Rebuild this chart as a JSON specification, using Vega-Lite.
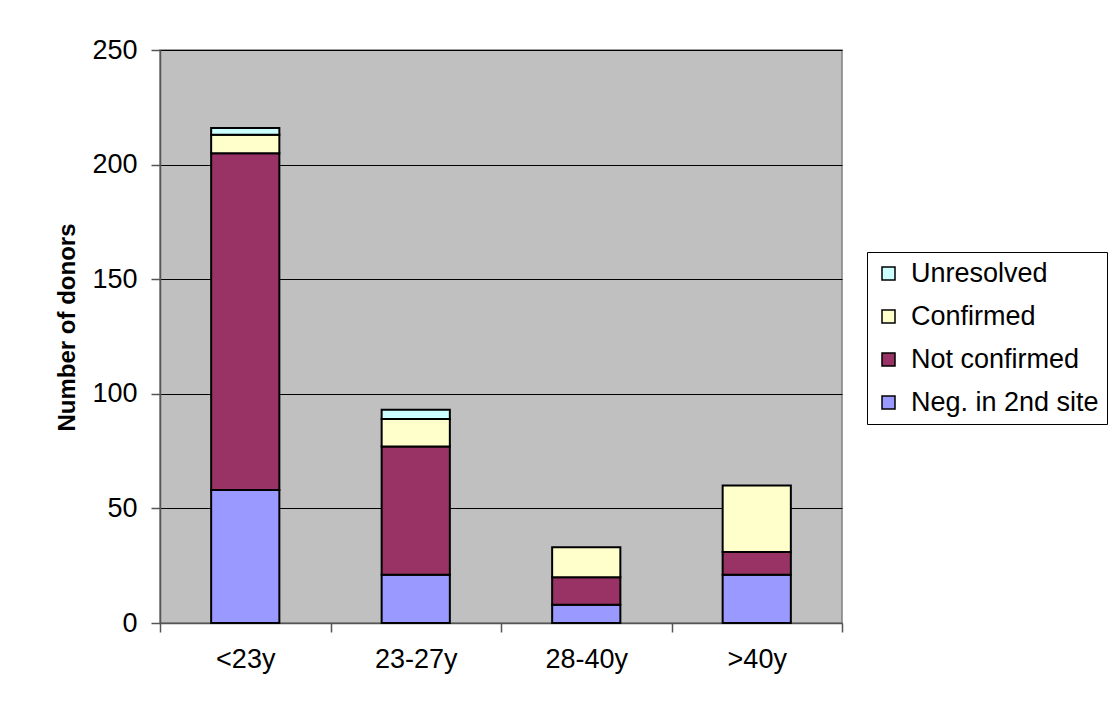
{
  "$schema": "https://vega.github.io/schema/vega-lite/v6.json",
  "autosize": {"type": "none"},
  "width": 682,
  "height": 573,
  "padding": {"left": 160, "top": 50, "right": 275, "bottom": 78},
  "background": "#ffffff",
  "data": {
    "values": [
      {"age": "<23y", "status": "Neg. in 2nd site", "rank": 1, "donors": 58},
      {"age": "<23y", "status": "Not confirmed", "rank": 2, "donors": 147},
      {"age": "<23y", "status": "Confirmed", "rank": 3, "donors": 8},
      {"age": "<23y", "status": "Unresolved", "rank": 4, "donors": 3},
      {"age": "23-27y", "status": "Neg. in 2nd site", "rank": 1, "donors": 21},
      {"age": "23-27y", "status": "Not confirmed", "rank": 2, "donors": 56},
      {"age": "23-27y", "status": "Confirmed", "rank": 3, "donors": 12},
      {"age": "23-27y", "status": "Unresolved", "rank": 4, "donors": 4},
      {"age": "28-40y", "status": "Neg. in 2nd site", "rank": 1, "donors": 8},
      {"age": "28-40y", "status": "Not confirmed", "rank": 2, "donors": 12},
      {"age": "28-40y", "status": "Confirmed", "rank": 3, "donors": 13},
      {"age": ">40y", "status": "Neg. in 2nd site", "rank": 1, "donors": 21},
      {"age": ">40y", "status": "Not confirmed", "rank": 2, "donors": 10},
      {"age": ">40y", "status": "Confirmed", "rank": 3, "donors": 29}
    ]
  },
  "mark": {"type": "bar", "stroke": "#000000", "strokeWidth": 2, "width": {"band": 0.4}},
  "encoding": {
    "x": {
      "field": "age",
      "type": "nominal",
      "sort": ["<23y", "23-27y", "28-40y", ">40y"],
      "scale": {"paddingInner": 0, "paddingOuter": 0},
      "axis": {
        "title": null,
        "labelAngle": 0,
        "labelFontSize": 27,
        "labelColor": "#000000",
        "labelPadding": 14,
        "tickBand": "extent",
        "tickSize": 9,
        "tickColor": "#555555",
        "tickWidth": 1.5,
        "domainColor": "#555555",
        "domainWidth": 1.5,
        "grid": false
      }
    },
    "y": {
      "field": "donors",
      "type": "quantitative",
      "stack": "zero",
      "scale": {"domain": [0, 250], "nice": false},
      "axis": {
        "title": "Number of donors",
        "titleFontSize": 24,
        "titleFontWeight": "bold",
        "titleColor": "#000000",
        "titlePadding": 12,
        "titleY": 277,
        "values": [0, 50, 100, 150, 200, 250],
        "labelFontSize": 27,
        "labelColor": "#000000",
        "labelPadding": 14,
        "tickSize": 9,
        "tickColor": "#555555",
        "tickWidth": 1.5,
        "domainColor": "#555555",
        "domainWidth": 1.5,
        "grid": true,
        "gridColor": "#000000",
        "gridWidth": 1
      }
    },
    "color": {
      "field": "status",
      "type": "nominal",
      "scale": {
        "domain": ["Unresolved", "Confirmed", "Not confirmed", "Neg. in 2nd site"],
        "range": ["#CCFFFF", "#FFFFCC", "#993366", "#9999FF"]
      },
      "legend": {
        "title": null,
        "orient": "none",
        "legendX": 707,
        "legendY": 202,
        "symbolType": "square",
        "symbolSize": 169,
        "symbolStrokeColor": "#000000",
        "symbolStrokeWidth": 1.5,
        "symbolOpacity": 1,
        "labelFontSize": 27,
        "labelColor": "#000000",
        "labelOffset": 9,
        "rowPadding": 15,
        "padding": 8,
        "strokeColor": "#000000",
        "fillColor": "#ffffff",
        "labelLimit": 400
      }
    },
    "order": {"field": "rank", "type": "quantitative"}
  },
  "config": {
    "font": "Liberation Sans",
    "view": {"fill": "#c0c0c0", "stroke": "#808080", "strokeWidth": 1.5}
  }
}
